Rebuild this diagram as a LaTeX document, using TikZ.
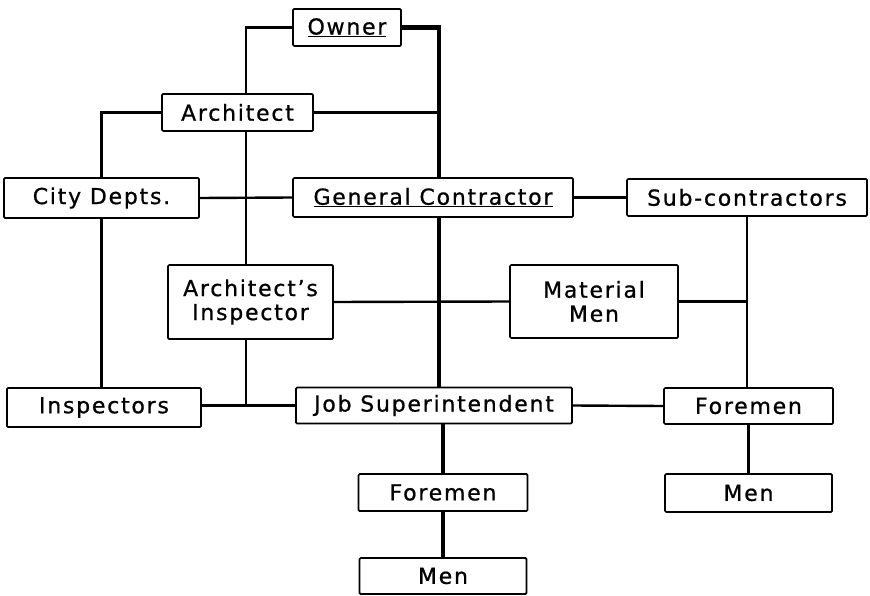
\documentclass[tikz,border=0pt]{standalone}
\usepackage{fontspec}
\setmainfont{DejaVu Sans}[LetterSpace=8,FakeBold=0.8]

\tikzset{
  box/.style={draw, line width=1.7pt, fill=white, rounded corners=1.2pt, inner sep=0pt,
    align=center, font=\fontsize{22}{24}\selectfont},
  link/.style={line width=2.4pt},
  trunk/.style={line width=4.8pt}
}

\begin{document}
\begin{tikzpicture}[x=1pt,y=-1pt]
\useasboundingbox (0,0) rectangle (870,596);

\node[box, minimum width=108, minimum height=37] (owner) at (347,27.5) {\underline{Owner}};
\node[box, minimum width=151, minimum height=37] (arch) at (237.5,112.5) {Architect};
\node[box, minimum width=195, minimum height=40] (city) at (101.5,198) {City Depts.};
\node[box, minimum width=280, minimum height=39] (gc) at (433,197.5) {\underline{General Contractor}};
\node[box, minimum width=240, minimum height=37] (sub) at (747,197.5) {Sub-contractors};
\node[box, minimum width=165, minimum height=74] (ainsp) at (250.5,302) {Architect’s\\Inspector};
\node[box, minimum width=168, minimum height=73] (mat) at (594,301.5) {Material\\Men};
\node[box, minimum width=194, minimum height=39] (insp) at (104,407.5) {Inspectors};
\node[box, minimum width=276, minimum height=36] (jsup) at (434,405.5) {Job Superintendent};
\node[box, minimum width=169, minimum height=36] (fore2) at (748.5,406) {Foremen};
\node[box, minimum width=167, minimum height=38] (men2) at (748.5,493) {Men};
\node[box, minimum width=169, minimum height=37] (fore1) at (443,492.5) {Foremen};
\node[box, minimum width=167, minimum height=36] (men1) at (443,576) {Men};

\coordinate (vline) at (246,0);
\coordinate (spine) at (439,0);

\draw[trunk] (owner.east) -| (spine |- gc.north);
\draw[trunk] (spine |- gc.south) -- (spine |- jsup.north);
\draw[trunk] (fore1.north |- jsup.south) -- (fore1.north);
\draw[trunk] (fore1.south) -- (men1.north);

\draw[link] (owner.west) -| (vline |- arch.north);
\draw[link] (vline |- arch.south) -- (vline |- ainsp.north);
\draw[link] (vline |- ainsp.south) -- (vline |- jsup.west);
\draw[link] (arch.east) -- (arch.east -| spine);
\draw[link] (arch.west) -| (city.north);
\draw[link] (city.south) -- (city.south |- insp.north);
\draw[link] (city.east) -- (gc.west);
\draw[link] (gc.east) -- (sub.west);
\draw[link] (sub.south) -- (sub.south |- fore2.north);
\draw[link] (ainsp.east) -- (mat.west);
\draw[link] (mat.east) -- (mat.east -| sub.south);
\draw[link] (insp.east |- jsup.west) -- (jsup.west);
\draw[link] (jsup.east) -- (fore2.west);
\draw[link] (fore2.south) -- (men2.north);
\end{tikzpicture}
\end{document}
